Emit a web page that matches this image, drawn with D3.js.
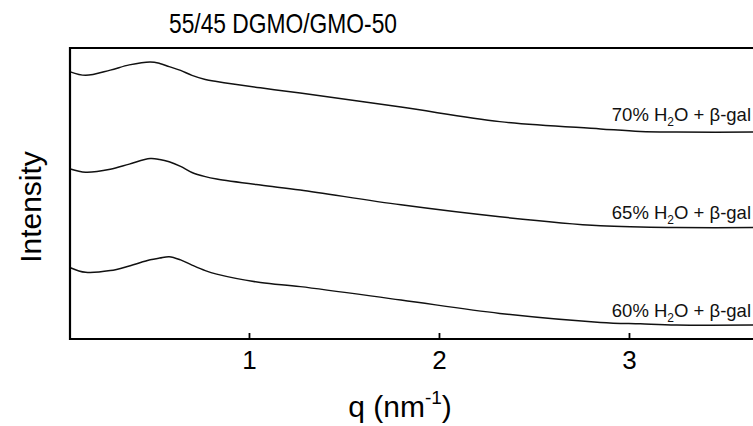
<!DOCTYPE html>
<html>
<head>
<meta charset="utf-8">
<script src="https://cdn.jsdelivr.net/npm/d3@7"></script>
<style>
  body { margin: 0; background: #fff; }
  svg { display: block; font-family: Arial, "Liberation Sans", sans-serif; }
</style>
</head>
<body>
<svg id="chart" width="753" height="426"></svg>
<script>
// q values (nm^-1) sampled along the curves
const q = [0.06, 0.14, 0.27, 0.37, 0.48, 0.53, 0.58, 0.64, 0.70, 0.77, 0.83, 1.06, 1.27, 1.80, 2.32, 2.85, 3.06, 3.25, 3.70];
// stacked intensities (arbitrary units, offset)
const i70 = [91.8, 90.6, 92.4, 94.2, 95.2, 94.7, 93.6, 92.3, 90.6, 89.2, 88.5, 86.3, 84.5, 79.7, 74.7, 72.2, 71.3, 71.1, 71.1];
const i65 = [58.4, 57.3, 58.3, 60.1, 62.0, 61.7, 60.9, 59.3, 57.2, 55.8, 55.0, 52.9, 51.2, 46.1, 42.0, 38.9, 38.5, 38.3, 38.3];
const i60 = [24.5, 22.9, 23.5, 25.1, 27.2, 27.8, 28.3, 27.2, 25.4, 23.5, 22.3, 19.4, 18.0, 13.4, 8.8, 5.7, 5.2, 4.8, 4.8];
const seriesNames = ['70%', '65%', '60%'];
const seriesValues = [i70, i65, i60];
const xTicks = [1, 2, 3];

const svg = d3.select('#chart');
const margin = { left: 70, top: 48, bottom: 339 };

const x = d3.scaleLinear().domain([0.058, 3.7]).range([margin.left, 70 + 3.642 * 190]);
const y = d3.scaleLinear().domain([0, 100]).range([margin.bottom, margin.top]);

// clip to plot area
svg.append('defs').append('clipPath').attr('id', 'clip')
  .append('rect')
  .attr('x', margin.left).attr('y', margin.top)
  .attr('width', 753 - margin.left).attr('height', margin.bottom - margin.top);

const line = d3.line()
  .x((d, i) => x(q[i]))
  .y(d => y(d))
  .curve(d3.curveCatmullRom.alpha(0.5));

svg.append('g').attr('clip-path', 'url(#clip)')
  .selectAll('path')
  .data(seriesValues)
  .enter()
  .append('path')
  .attr('d', line)
  .attr('fill', 'none')
  .attr('stroke', '#111')
  .attr('stroke-width', 1.5);

// frame: left, top, bottom (right side is off page)
svg.append('path')
  .attr('d', `M${753},${margin.top}H${margin.left}V${margin.bottom}H${753}`)
  .attr('fill', 'none')
  .attr('stroke', '#000')
  .attr('stroke-width', 2.2);

// x axis, inward ticks
const xAxis = d3.axisBottom(x).tickValues(xTicks).tickFormat(d3.format('d'))
  .tickSizeInner(-6).tickSizeOuter(0).tickPadding(12);
const gx = svg.append('g')
  .attr('transform', `translate(0,${margin.bottom})`)
  .call(xAxis)
  .attr('font-size', 26)
  .attr('font-family', 'Arial, "Liberation Sans", sans-serif');
gx.select('.domain').remove();
gx.selectAll('.tick line').attr('stroke', '#000').attr('stroke-width', 1.8);
gx.selectAll('.tick text').attr('fill', '#000');

// series labels
const labelY = [120.5, 219, 316.5];
const labels = svg.append('g')
  .selectAll('text')
  .data(seriesNames)
  .enter()
  .append('text')
  .attr('x', 751)
  .attr('y', (d, i) => labelY[i])
  .attr('text-anchor', 'end')
  .attr('font-size', 18.5)
  .attr('fill', '#111');
labels.append('tspan').text(d => d + ' H');
labels.append('tspan').attr('font-size', 12).attr('dy', 5).text('2');
labels.append('tspan').attr('dy', -5).text('O + β-gal');

// title
svg.append('text')
  .attr('x', 283).attr('y', 33)
  .attr('text-anchor', 'middle')
  .attr('font-size', 27.5)
  .attr('textLength', 228)
  .attr('lengthAdjust', 'spacingAndGlyphs')
  .attr('fill', '#000')
  .text('55/45 DGMO/GMO-50');

// y title
svg.append('text')
  .attr('transform', 'translate(41,207) rotate(-90)')
  .attr('text-anchor', 'middle')
  .attr('font-size', 30)
  .attr('fill', '#000')
  .text('Intensity');

// x title
const xt = svg.append('text')
  .attr('x', 400).attr('y', 417)
  .attr('text-anchor', 'middle')
  .attr('font-size', 30)
  .attr('fill', '#000');
xt.append('tspan').text('q (nm');
xt.append('tspan').attr('font-size', 19).attr('dy', -13).text('-1');
xt.append('tspan').attr('dy', 13).text(')');
</script>
</body>
</html>
